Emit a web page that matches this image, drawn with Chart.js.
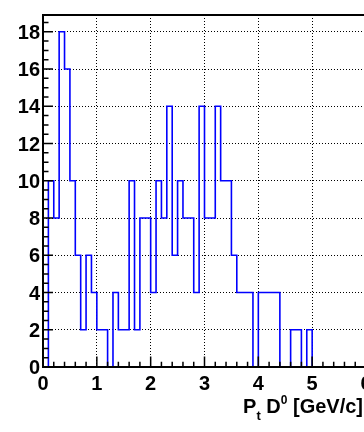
<!DOCTYPE html>
<html>
<head>
<meta charset="utf-8">
<script src="https://cdn.jsdelivr.net/npm/chart.js@4.4.0/dist/chart.umd.min.js"></script>
<style>
  html, body { margin: 0; padding: 0; background: #fff; overflow: hidden; }
  #wrap { width: 364px; height: 432px; overflow: hidden; }
  canvas { display: block; }
</style>
</head>
<body>
<div id="wrap"><canvas id="ptChart" width="400" height="432"></canvas></div>
<script>
// D0 transverse momentum spectrum, bins of 0.1 GeV/c starting at 0
const binWidth = 0.1;
const ptRange = [0, 6];
const counts = [
    0, 10, 8, 18, 16, 10, 6, 2, 6, 4,      // 0.0 - 1.0
    2, 2, 0, 4, 2, 2, 10, 2, 8, 8,         // 1.0 - 2.0
    4, 10, 8, 14, 6, 10, 8, 8, 4, 14,      // 2.0 - 3.0
    8, 8, 14, 10, 10, 6, 4, 4, 4, 0,       // 3.0 - 4.0
    4, 4, 4, 4, 0, 0, 2, 2, 0, 2,          // 4.0 - 5.0
    0, 0, 0, 0, 0, 0, 0, 0, 0, 0           // 5.0 - 6.0
];
const yMax = 18.9;      // 18 * 1.05, leaves headroom above the tallest bin
const yStep = 2;
const xStep = 1;

const fontFamily = "'Liberation Sans', Arial, Helvetica, sans-serif";

// histogram outline: one point per lower bin edge, plus the closing edge
const points = counts.map((c, i) => ({ x: i * binWidth, y: c }));
points.push({ x: counts.length * binWidth, y: counts[counts.length - 1] });

// inward tick marks, frame and the axis title
const rootFrame = {
    id: 'rootFrame',
    afterDatasetsDraw(chart) {
        const { ctx, chartArea: a, scales } = chart;
        const xs = scales.x, ys = scales.y;
        ctx.save();
        ctx.strokeStyle = '#000';
        ctx.lineWidth = 1.5;
        ctx.beginPath();
        // x ticks: major every 1, minor every 0.2
        for (let k = 0; k <= 30; k++) {
            const px = xs.getPixelForValue(k / 5);
            const len = k % 5 === 0 ? 10.6 : 5.3;
            ctx.moveTo(px, a.bottom);
            ctx.lineTo(px, a.bottom - len);
        }
        // y ticks: major every 2, minor every 0.5
        for (let k = 0; k * 0.5 <= yMax; k++) {
            const py = ys.getPixelForValue(k * 0.5);
            const len = k % 4 === 0 ? 10 : 5.5;
            ctx.moveTo(a.left, py);
            ctx.lineTo(a.left + len, py);
        }
        ctx.stroke();

        ctx.lineWidth = 2;
        ctx.strokeRect(a.left, a.top, a.right - a.left, a.bottom - a.top);

        // "Pt D0 [GeV/c]" with subscript and superscript, right aligned
        const pieces = [
            { t: 'P', size: 20, dy: 0 },
            { t: 't', size: 13, dy: 7 },
            { t: ' D', size: 20, dy: 0 },
            { t: '0', size: 12, dy: -9 },
            { t: ' [GeV/c]', size: 20, dy: 0 }
        ];
        const baseline = 413;
        const rightEnd = 363;
        let total = 0;
        pieces.forEach(p => {
            ctx.font = `bold ${p.size}px ${fontFamily}`;
            p.w = ctx.measureText(p.t).width;
            total += p.w;
        });
        let x = rightEnd - total;
        ctx.fillStyle = '#000';
        ctx.textBaseline = 'alphabetic';
        ctx.textAlign = 'left';
        pieces.forEach(p => {
            ctx.font = `bold ${p.size}px ${fontFamily}`;
            ctx.fillText(p.t, x, baseline + p.dy);
            x += p.w;
        });
        ctx.restore();
    }
};

new Chart(document.getElementById('ptChart'), {
    type: 'line',
    data: {
        datasets: [{
            data: points,
            stepped: true,
            borderColor: '#0000ff',
            borderWidth: 1.6,
            pointRadius: 0,
            fill: false
        }]
    },
    options: {
        responsive: false,
        animation: false,
        events: [],
        layout: {
            padding: { top: 14, right: 34, left: 0, bottom: 0 }
        },
        plugins: {
            legend: { display: false },
            tooltip: { enabled: false }
        },
        scales: {
            x: {
                type: 'linear',
                min: ptRange[0],
                max: ptRange[1],
                afterFit: s => { s.height = 65; },
                border: { display: false, dash: [1, 2] },
                grid: { color: '#000', lineWidth: 1, drawTicks: false },
                ticks: {
                    stepSize: xStep,
                    padding: 5,
                    color: '#000',
                    font: { family: fontFamily, size: 20, weight: 'bold' }
                }
            },
            y: {
                min: 0,
                max: yMax,
                afterFit: s => { s.width = 43; },
                border: { display: false, dash: [1, 2] },
                grid: { color: '#000', lineWidth: 1, drawTicks: false },
                ticks: {
                    stepSize: yStep,
                    includeBounds: false,
                    padding: 3,
                    labelOffset: 1.5,
                    color: '#000',
                    font: { family: fontFamily, size: 20, weight: 'bold' }
                }
            }
        }
    },
    plugins: [rootFrame]
});
</script>
</body>
</html>
